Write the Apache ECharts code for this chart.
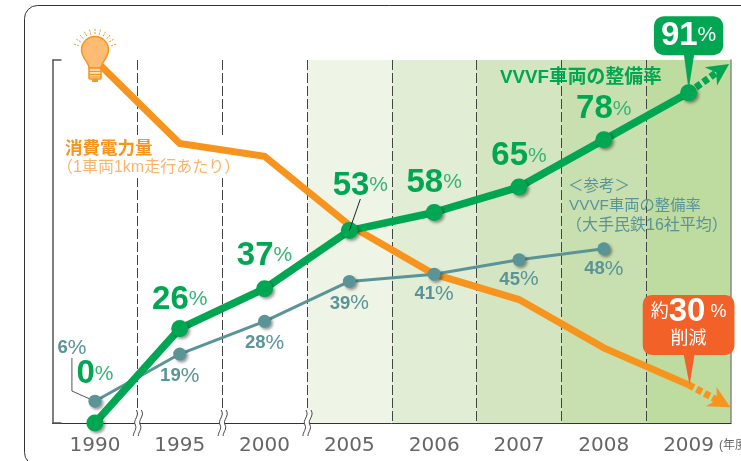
<!DOCTYPE html>
<html>
<head>
<meta charset="utf-8">
<script src="https://cdn.jsdelivr.net/npm/echarts@6/dist/echarts.min.js"></script>
<style>
  html, body { margin: 0; padding: 0; background: #fff; overflow: hidden; }
  #chart { width: 741px; height: 461px; }
</style>
</head>
<body>
<div id="chart"></div>
<script>
const years = ['1990', '1995', '2000', '2005', '2006', '2007', '2008', '2009'];
const powerValues = [100, 77, 73.5, 54.5, 41, 34, 20.7, 10.5];
const vvvfValues = [0, 26, 37, 53, 58, 65, 78, 91];
const privateValues = [6, 19, 28, 39, 41, 45, 48, null];
const bandValues = [null, null, null, 100, 100, 100, 100, 100];
const bandColors = ['#fff', '#fff', '#fff', '#eef5e6', '#e1edd5', '#d4e6c1', '#c8e0af', '#bedba0'];

// arrow ends after 2009: [x axis position, value]
const vvvfArrow = [[7, 91], [7.37, 97.2]];
const powerArrow = [[7, 10.5], [7.38, 5.8]];

// where each label sits, measured from its point
const vvvfOffsets = [[0, -49], [0, -29], [0, -33], [11, -45], [0, -30], [0, -31], [0, -31], [0, -57]];
const privateOffsets = [[-23, -53], [0, 22], [0, 22], [0, 22], [0, 20], [0, 20], [0, 20]];

const GREEN = '#00a651';
const TEAL = '#5a9497';
const ORANGE = '#f7941d';
const RED = '#f26128';
const JP = '"Liberation Sans", "Noto Sans CJK JP", sans-serif';
const ARROW = 'path://M10 0 L20 20 L10 14 L0 20 Z';

echarts.graphic.registerShape('breakFill', echarts.graphic.extendPath(
  'M3 0 C7 6 -1 10 2 15 C4 19 0 22 0 26 L5 26 C5 22 9 19 7 15 C4 10 12 6 8 0 Z', {}));
echarts.graphic.registerShape('breakEdges', echarts.graphic.extendPath(
  'M3 0 C7 6 -1 10 2 15 C4 19 0 22 0 26 M8 0 C12 6 4 10 7 15 C9 19 5 22 5 26', {}));
echarts.graphic.registerShape('bulbBody', echarts.graphic.extendPath(
  'M-6 17 C-6 11 -13.5 7 -13.5 -1 A13.5 13.5 0 1 1 13.5 -1 C13.5 7 6 11 6 17 Z', {}));

const chart = echarts.init(document.getElementById('chart'));

const markerShadow = { shadowColor: 'rgba(0,0,0,0.4)', shadowBlur: 3, shadowOffsetX: 2, shadowOffsetY: 2 };

chart.setOption({
  animation: false,
  grid: { left: 52.5, top: 60, width: 678.5, height: 363 },
  xAxis: [
    {
      type: 'category',
      data: years,
      boundaryGap: true,
      z: 1,
      axisLine: { lineStyle: { color: '#333', width: 1 } },
      axisTick: { show: false },
      axisLabel: { color: '#666', fontFamily: 'DejaVu Sans', fontSize: 20, margin: 13 },
      splitLine: {
        show: true,
        showMinLine: false,
        showMaxLine: false,
        lineStyle: { color: '#444', type: [10, 3], width: 1 }
      }
    },
    { type: 'value', min: -0.5, max: 7.5, show: false }
  ],
  yAxis: [
    {
      type: 'value',
      min: 0,
      max: 100,
      interval: 100,
      z: 1,
      axisLine: { show: true, onZero: false, lineStyle: { color: '#555', width: 1.5 } },
      axisTick: { show: true, inside: true, length: 9, lineStyle: { color: '#555', width: 1.5 } },
      axisLabel: { show: false },
      splitLine: { show: false }
    },
    {
      type: 'value',
      min: 0,
      max: 100,
      position: 'right',
      z: 1,
      axisLine: { show: true, onZero: false, lineStyle: { color: '#888', width: 1.5 } },
      axisTick: { show: false },
      axisLabel: { show: false },
      splitLine: { show: false }
    }
  ],
  series: [
    {
      type: 'bar',
      data: bandValues.map(function (v, i) {
        return { value: v, itemStyle: { color: bandColors[i] } };
      }),
      barWidth: '100%',
      silent: true,
      z: 0
    },
    {
      type: 'line',
      data: powerValues.map(function (v, i) {
        if (i !== powerValues.length - 1) return v;
        return {
          value: v,
          label: {
            show: true,
            position: 'inside',
            offset: [0, -60],
            formatter: '{s|約}{b|30}{s| %}\n{s2|削減}',
            backgroundColor: RED,
            borderRadius: 9,
            padding: [1, 8, 6, 8],
            rich: {
              s: { color: '#fff', fontFamily: JP, fontSize: 18 },
              b: { color: '#fff', fontFamily: JP, fontSize: 33, fontWeight: 'bold' },
              s2: { color: '#fff', fontFamily: JP, fontSize: 18, align: 'center', lineHeight: 20 }
            }
          }
        };
      }),
      symbol: 'circle',
      symbolSize: 1,
      clip: false,
      itemStyle: { color: ORANGE },
      lineStyle: { color: ORANGE, width: 7, join: 'miter' },
      z: 3
    },
    {
      type: 'line',
      xAxisIndex: 1,
      data: powerArrow.map(function (p, i) {
        return i === 0 ? { value: p, symbol: 'none' } : { value: p, symbol: ARROW, symbolSize: [22, 22], symbolRotate: -119 };
      }),
      clip: false,
      itemStyle: { color: ORANGE },
      lineStyle: { color: ORANGE, width: 7, type: [6, 3] },
      z: 3
    },
    {
      type: 'line',
      data: privateValues.map(function (v, i) {
        return { value: v, label: { offset: privateOffsets[i] } };
      }),
      symbol: 'circle',
      symbolSize: 13,
      clip: false,
      connectNulls: false,
      itemStyle: Object.assign({ color: TEAL }, markerShadow),
      lineStyle: { color: TEAL, width: 3 },
      label: {
        show: true,
        position: 'inside',
        formatter: function (p) { return '{n|' + p.value + '}{p|%}'; },
        rich: {
          n: { color: TEAL, fontFamily: JP, fontSize: 18.5, fontWeight: 'bold' },
          p: { color: TEAL, fontFamily: JP, fontSize: 21 }
        }
      },
      z: 4
    },
    {
      type: 'line',
      xAxisIndex: 1,
      data: vvvfArrow.map(function (p, i) {
        return i === 0 ? { value: p, symbol: 'none' } : { value: p, symbol: ARROW, symbolSize: [22, 22], symbolRotate: -56 };
      }),
      clip: false,
      itemStyle: { color: GREEN },
      lineStyle: { color: GREEN, width: 7, type: [6, 3] },
      z: 5
    },
    {
      type: 'line',
      data: vvvfValues.map(function (v, i) {
        if (i !== vvvfValues.length - 1) return { value: v, label: { offset: vvvfOffsets[i] } };
        return {
          value: v,
          label: {
            offset: vvvfOffsets[i],
            formatter: '{w|91}{wp|%}',
            backgroundColor: GREEN,
            borderRadius: 10,
            padding: [3, 7, 3, 7]
          }
        };
      }),
      symbol: 'circle',
      symbolSize: 17,
      clip: false,
      itemStyle: Object.assign({ color: GREEN }, markerShadow),
      lineStyle: { color: GREEN, width: 7.5 },
      label: {
        show: true,
        position: 'inside',
        formatter: function (p) { return '{n|' + p.value + '}{p|%}'; },
        rich: {
          n: { color: GREEN, fontFamily: JP, fontSize: 33, fontWeight: 'bold' },
          p: { color: '#35b574', fontFamily: JP, fontSize: 21 },
          w: { color: '#fff', fontFamily: JP, fontSize: 33, fontWeight: 'bold' },
          wp: { color: '#fff', fontFamily: JP, fontSize: 21 }
        }
      },
      z: 6
    }
  ]
});

// pixel helpers, so the decorations follow the axes
function px(x, y) {
  return chart.convertToPixel({ xAxisIndex: 1, yAxisIndex: 0 }, [x, y]);
}

const deco = [];

// frame
deco.push({
  type: 'rect',
  shape: { x: 24.5, y: 5.5, width: 800, height: 460, r: 13 },
  style: { fill: 'none', stroke: '#333', lineWidth: 1 },
  z: 1
});

// white patch behind the power caption
deco.push({
  type: 'rect',
  shape: { x: 62, y: 137, width: 175, height: 41 },
  style: { fill: '#fff' },
  z: 1
});

// axis breaks
[0.5, 1.5, 2.5].forEach(function (pos) {
  const x = px(pos, 0)[0];
  deco.push({ type: 'breakFill', x: x - 4, y: 410, style: { fill: '#fff' }, z: 8 });
  deco.push({ type: 'breakEdges', x: x - 4, y: 410, style: { fill: 'none', stroke: '#444', lineWidth: 1 }, z: 8 });
});

// leader lines
const p6 = px(0, 6);
deco.push({
  type: 'polyline',
  shape: { points: [[p6[0] - 23, 358], [p6[0] - 23, 391], p6] },
  style: { fill: 'none', stroke: '#555', lineWidth: 1 },
  z: 3
});
const p53 = px(3, 53);
deco.push({
  type: 'line',
  shape: { x1: p53[0] + 11, y1: 199, x2: p53[0], y2: p53[1] },
  style: { stroke: '#222', lineWidth: 1 },
  z: 20
});

// callout pointers
const p91 = px(7, 91);
deco.push({
  type: 'polygon',
  shape: { points: [[p91[0] - 5, 52], [p91[0] + 6, 52], [p91[0], p91[1] - 3]] },
  style: { fill: GREEN },
  z: 20
});
const p30 = px(7, 10.5);
deco.push({
  type: 'polygon',
  shape: { points: [[p30[0] - 5, 354], [p30[0] + 6, 354], [p30[0] + 1, p30[1]]] },
  style: { fill: RED },
  z: 20
});

// bulb
const bx = 95, by = 51;
for (let i = 0; i < 11; i++) {
  const a = Math.PI * (1.1 + i * 0.08);
  deco.push({
    type: 'line',
    shape: {
      x1: bx + 17 * Math.cos(a), y1: by + 17 * Math.sin(a),
      x2: bx + 23 * Math.cos(a), y2: by + 23 * Math.sin(a)
    },
    style: { stroke: ORANGE, lineWidth: 1, lineDash: [2, 1] },
    z: 20
  });
}
deco.push({
  type: 'bulbBody',
  x: bx,
  y: by,
  style: { fill: '#fdbb74', stroke: ORANGE, lineWidth: 1.5 },
  z: 20
});
deco.push({ type: 'rect', shape: { x: bx - 6, y: by + 17, width: 12, height: 11, r: 1 }, style: { fill: '#fdd9ae', stroke: ORANGE, lineWidth: 1.5 }, z: 20 });
[20.5, 23.5, 26].forEach(function (dy) {
  deco.push({ type: 'line', shape: { x1: bx - 6, y1: by + dy, x2: bx + 6, y2: by + dy }, style: { stroke: ORANGE, lineWidth: 1 }, z: 20 });
});
deco.push({ type: 'rect', shape: { x: bx - 3, y: by + 28, width: 6, height: 3, r: 1 }, style: { fill: ORANGE }, z: 20 });

// captions
function caption(text, x, y, size, color, weight) {
  deco.push({
    type: 'text',
    x: x,
    y: y,
    style: {
      text: text,
      fill: color,
      fontSize: size,
      fontWeight: weight || 'normal',
      fontFamily: JP,
      verticalAlign: 'middle'
    },
    z: 21
  });
}
caption('消費電力量', 65, 149, 17.5, ORANGE, 'bold');
caption('（1車両1km走行あたり）', 57, 168, 16, '#f9b56c');
caption('VVVF車両の整備率', 500, 78, 18.8, GREEN, 'bold');
caption('＜参考＞', 568, 187, 15.5, TEAL);
caption('VVVF車両の整備率', 569, 206, 15.3, TEAL);
caption('（大手民鉄16社平均）', 566, 226, 16, TEAL);
caption('(年度)', 719, 446, 12, '#666');

chart.setOption({ graphic: deco });
</script>
</body>
</html>
